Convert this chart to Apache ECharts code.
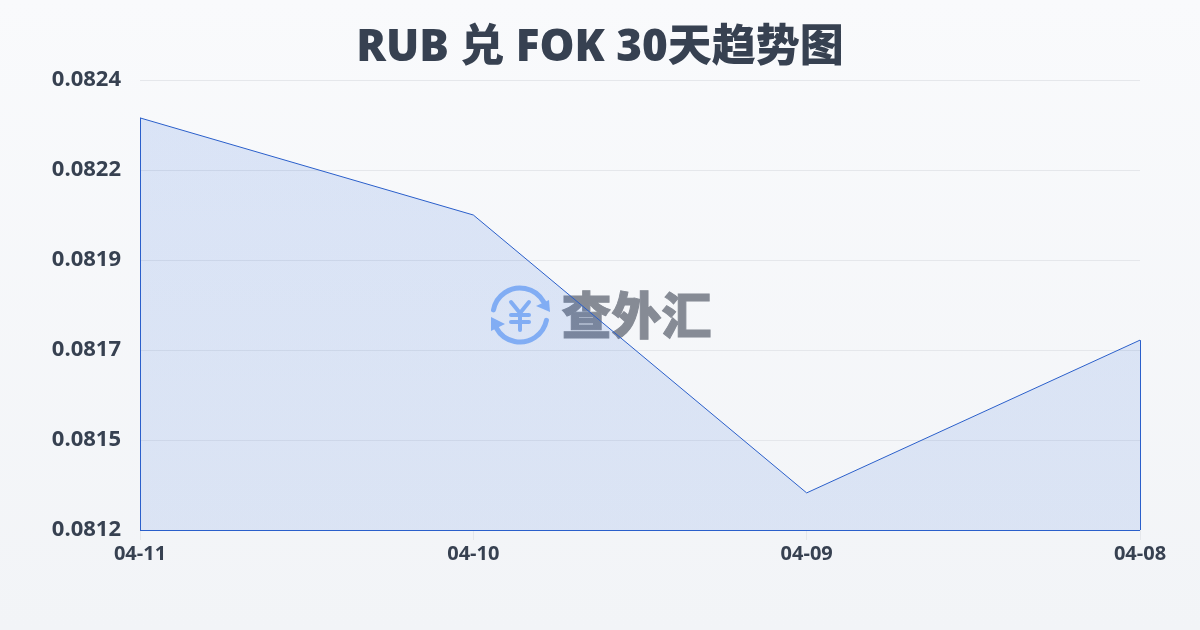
<!DOCTYPE html>
<html><head><meta charset="utf-8">
<style>html,body{margin:0;padding:0;width:1200px;height:630px;overflow:hidden}#c{width:1200px;height:630px}</style>
<script src="https://cdn.jsdelivr.net/npm/echarts@6/dist/echarts.min.js"></script>
</head><body><div id="c"></div>
<script>
const categories = ['04-11','04-10','04-09','04-08'];
const rates = [0.082284,0.082038,0.081334,0.081721];
const yTickLabels = ['0.0812','0.0815','0.0817','0.0819','0.0822','0.0824'];
const yMin = 0.08124, yMax = 0.08238;
const FONT = '"Open Sans","Noto Sans CJK SC",sans-serif';
const LINE = '#2a5fcb';
const INK = '#374151';
const chart = echarts.init(document.getElementById('c'),null,{renderer:'canvas'});
const cx=520, cy=315, ICON='#8fb8f8';
chart.setOption({
  animation:false,
  backgroundColor:new echarts.graphic.LinearGradient(0,0,0,1,[{offset:0,color:'#f9fafc'},{offset:1,color:'#f2f4f7'}]),
  title:{text:'RUB 兑 FOK 30天趋势图',left:'center',top:21,textStyle:{fontFamily:FONT,fontSize:44,fontWeight:800,color:INK}},
  grid:{left:140,right:60,top:80,bottom:100},
  xAxis:{type:'category',data:categories,boundaryGap:false,
    axisLine:{show:false},
    axisTick:{show:true,length:10,lineStyle:{color:'#e5e7eb'}},
    axisLabel:{fontFamily:FONT,fontSize:20,fontWeight:700,color:INK,margin:14,showMinLabel:true,showMaxLabel:true,hideOverlap:false,interval:0}},
  yAxis:{type:'value',min:yMin,max:yMax,interval:(yMax-yMin)/5,
    axisLine:{show:false},axisTick:{show:false},
    splitLine:{lineStyle:{color:'#e5e7eb',width:1}},
    axisLabel:{fontFamily:FONT,fontSize:22,fontWeight:700,color:INK,margin:19,
      formatter:(v)=>yTickLabels[Math.round((v-yMin)/((yMax-yMin)/5))]}},
  graphic:{elements:[
    {type:'group',z:1,silent:true,children:[
      {type:'arc',shape:{cx,cy,r:27,startAngle:-2.95,endAngle:-0.5},style:{fill:null,stroke:ICON,lineWidth:5,lineCap:'round'}},
      {type:'arc',shape:{cx,cy,r:27,startAngle:0.2,endAngle:2.65},style:{fill:null,stroke:ICON,lineWidth:5,lineCap:'round'}},
      {type:'polygon',shape:{points:[[549,300],[550,312],[536,306]]},style:{fill:ICON}},
      {type:'polygon',shape:{points:[[491,317],[505,324],[491,331]]},style:{fill:ICON}},
      {type:'polyline',shape:{points:[[511,302],[520,313],[529,302]]},style:{fill:null,stroke:ICON,lineWidth:4,lineCap:'round'}},
      {type:'line',shape:{x1:520,y1:313,x2:520,y2:330},style:{stroke:ICON,lineWidth:4,lineCap:'round'}},
      {type:'line',shape:{x1:511,y1:315,x2:529,y2:315},style:{stroke:ICON,lineWidth:4,lineCap:'round'}},
      {type:'line',shape:{x1:511,y1:322,x2:529,y2:322},style:{stroke:ICON,lineWidth:4,lineCap:'round'}},
      {type:'text',style:{x:636.5,y:315,text:'查外汇',align:'center',verticalAlign:'middle',font:'900 50px "Noto Sans CJK SC"',fill:'#868b95',stroke:'#868b95',lineWidth:1}}
    ]}
  ]},
  series:[{
    type:'line',data:rates,symbol:'none',smooth:false,z:3,
    lineStyle:{color:LINE,width:1},
    areaStyle:{origin:'start',color:new echarts.graphic.LinearGradient(0,0,0,1,[{offset:0,color:'rgba(37,99,216,0.2)'},{offset:1,color:'rgba(37,99,216,0.17)'}])},
    markLine:{silent:true,symbol:'none',label:{show:false},lineStyle:{color:LINE,width:1,type:'solid'},animation:false,
      data:[
        [{xAxis:categories[0],yAxis:yMin},{xAxis:categories[3],yAxis:yMin}],
        [{xAxis:categories[0],yAxis:yMin},{xAxis:categories[0],yAxis:rates[0]}],
        [{xAxis:categories[3],yAxis:yMin},{xAxis:categories[3],yAxis:rates[3]}]
      ]}
  }]
});
</script></body></html>
